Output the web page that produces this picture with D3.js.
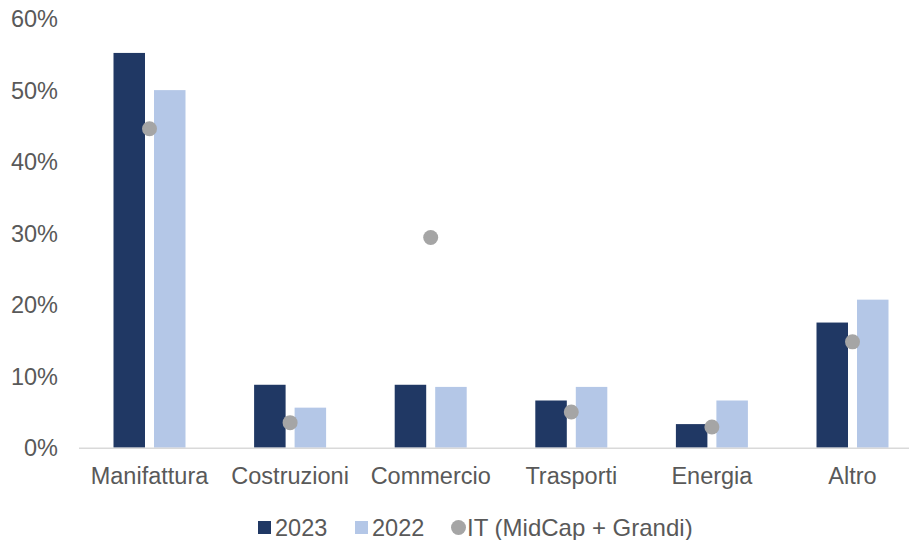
<!DOCTYPE html>
<html>
<head>
<meta charset="utf-8">
<script src="https://cdn.jsdelivr.net/npm/d3@7"></script>
<style>
  body { margin: 0; background: #fff; }
  text { font-family: "Liberation Sans", Arial, sans-serif; fill: #595959; }
</style>
</head>
<body>
<script>
var categories = ["Manifattura", "Costruzioni", "Commercio", "Trasporti", "Energia", "Altro"];
var v2023 = [55.2, 8.8, 8.8, 6.6, 3.3, 17.5];
var v2022 = [50.0, 5.6, 8.5, 8.5, 6.6, 20.7];
var vIT = [44.6, 3.5, 29.4, 5.0, 2.9, 14.8];
var yTicks = [0, 10, 20, 30, 40, 50, 60];

var w = 909, h = 540;
var fs = "23.5px";

var svg = d3.select("body").append("svg")
    .attr("width", w)
    .attr("height", h);

var x = d3.scaleBand()
    .domain(categories)
    .range([79.2, 922.8]);

var y = d3.scaleLinear()
    .domain([0, 60])
    .range([447.7, 18.6]);

var barW = 31.5, gap = 9;

// y tick labels
svg.selectAll("text.ytick")
    .data(yTicks)
    .enter().append("text")
    .attr("class", "ytick")
    .attr("x", 58)
    .attr("y", function(d) { return y(d); })
    .attr("dy", "0.36em")
    .attr("text-anchor", "end")
    .style("font-size", fs)
    .text(function(d) { return d + "%"; });

// bars 2023
svg.selectAll("rect.b23")
    .data(v2023)
    .enter().append("rect")
    .attr("class", "b23")
    .attr("x", function(d, i) { return x(categories[i]) + x.bandwidth() / 2 - gap / 2 - barW; })
    .attr("y", function(d) { return y(d); })
    .attr("width", barW)
    .attr("height", function(d) { return y(0) - y(d); })
    .attr("fill", "#203864");

// bars 2022
svg.selectAll("rect.b22")
    .data(v2022)
    .enter().append("rect")
    .attr("class", "b22")
    .attr("x", function(d, i) { return x(categories[i]) + x.bandwidth() / 2 + gap / 2; })
    .attr("y", function(d) { return y(d); })
    .attr("width", barW)
    .attr("height", function(d) { return y(0) - y(d); })
    .attr("fill", "#B4C7E7");

// baseline
svg.append("line")
    .attr("x1", 79)
    .attr("x2", w)
    .attr("y1", y(0) + 0.5)
    .attr("y2", y(0) + 0.5)
    .attr("stroke", "#D9D9D9")
    .attr("stroke-width", 1.5);

// IT dots
svg.selectAll("circle.it")
    .data(vIT)
    .enter().append("circle")
    .attr("class", "it")
    .attr("cx", function(d, i) { return x(categories[i]) + x.bandwidth() / 2; })
    .attr("cy", function(d) { return y(d); })
    .attr("r", 7.5)
    .attr("fill", "#A5A5A5");

// category labels
svg.selectAll("text.cat")
    .data(categories)
    .enter().append("text")
    .attr("class", "cat")
    .attr("x", function(d) { return x(d) + x.bandwidth() / 2; })
    .attr("y", 484)
    .attr("text-anchor", "middle")
    .style("font-size", fs)
    .text(function(d) { return d; });

// legend
var lg = svg.append("g");
lg.append("rect").attr("x", 258).attr("y", 521).attr("width", 13).attr("height", 13).attr("fill", "#203864");
lg.append("text").attr("x", 275).attr("y", 535.5).style("font-size", fs).text("2023");
lg.append("rect").attr("x", 355).attr("y", 521).attr("width", 13).attr("height", 13).attr("fill", "#B4C7E7");
lg.append("text").attr("x", 372).attr("y", 535.5).style("font-size", fs).text("2022");
lg.append("circle").attr("cx", 458.5).attr("cy", 527.5).attr("r", 7.5).attr("fill", "#A5A5A5");
lg.append("text").attr("x", 467).attr("y", 535.5).style("font-size", "24px").text("IT (MidCap + Grandi)");
</script>
</body>
</html>
